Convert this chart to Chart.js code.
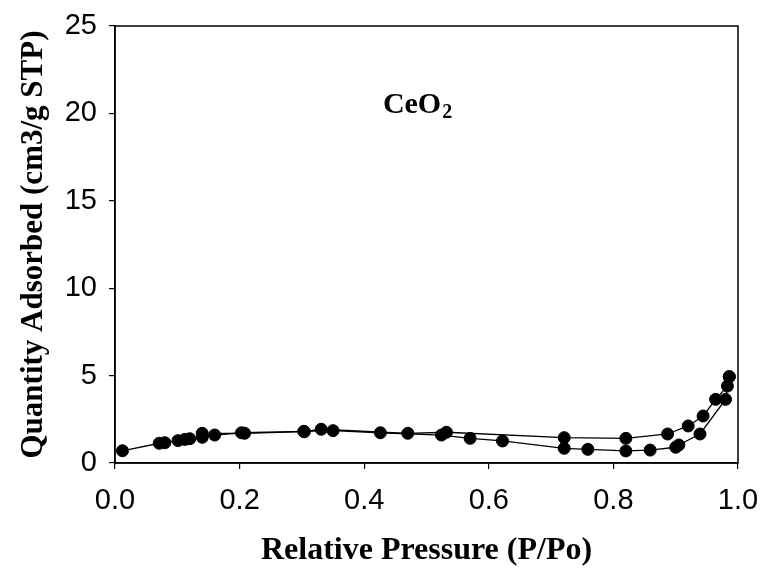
<!DOCTYPE html>
<html>
<head>
<meta charset="utf-8">
<script src="https://cdn.jsdelivr.net/npm/chart.js@4/dist/chart.umd.min.js"></script>
<style>
  html, body { margin: 0; padding: 0; background: #fff; overflow: hidden; }
  #wrap { width: 765px; height: 571px; }
</style>
</head>
<body>
<div id="wrap"><canvas id="chart1"></canvas></div>
<script>
// CeO2 N2 isotherm
const adsX = [0.012, 0.071, 0.080, 0.101, 0.112, 0.120, 0.140, 0.160, 0.203, 0.303, 0.350, 0.426, 0.524, 0.570, 0.622, 0.721, 0.759, 0.820, 0.859, 0.900, 0.905, 0.939, 0.980, 0.986];
const adsY = [0.70, 1.13, 1.16, 1.28, 1.35, 1.39, 1.47, 1.60, 1.73, 1.81, 1.85, 1.73, 1.60, 1.41, 1.26, 0.84, 0.78, 0.69, 0.74, 0.90, 1.03, 1.66, 3.64, 4.94];
const desX = [0.986, 0.983, 0.964, 0.944, 0.920, 0.887, 0.820, 0.721, 0.532, 0.470, 0.331, 0.304, 0.208, 0.140];
const desY = [4.94, 4.40, 3.64, 2.69, 2.12, 1.66, 1.41, 1.45, 1.76, 1.70, 1.93, 1.79, 1.70, 1.70];
const xTicks = [0, 0.2, 0.4, 0.6, 0.8, 1.0];
const yTicks = [0, 5, 10, 15, 20, 25];

const toPts = (xs, ys) => xs.map((x, i) => ({ x: x, y: ys[i] }));

const serif = '"Liberation Serif", "Times New Roman", serif';
const sans = '"Liberation Sans", Arial, sans-serif';

// box frame + sample label
const frame = {
  id: 'frame',
  afterDraw(chart) {
    const { ctx, chartArea: a, scales } = chart;
    ctx.save();
    ctx.strokeStyle = '#000';
    ctx.lineWidth = 1.5;
    ctx.strokeRect(a.left, a.top, a.right - a.left, a.bottom - a.top);
    const x = scales.x.getPixelForValue(0.43);
    const y = scales.y.getPixelForValue(20.0);
    ctx.fillStyle = '#000';
    ctx.textBaseline = 'alphabetic';
    ctx.font = 'bold 30px ' + serif;
    ctx.fillText('CeO', x, y);
    const w = ctx.measureText('CeO').width;
    ctx.font = 'bold 20px ' + serif;
    ctx.fillText('2', x + w + 1, y + 5);
    ctx.restore();
  }
};

const ctx = document.getElementById('chart1').getContext('2d');
const ds = (label, data) => ({
  label: label,
  data: data,
  showLine: true,
  borderColor: '#000',
  borderWidth: 1.3,
  backgroundColor: '#000',
  pointBackgroundColor: '#000',
  pointBorderColor: '#000',
  pointRadius: 6,
  pointBorderWidth: 1,
  tension: 0
});

new Chart(ctx, {
  type: 'scatter',
  data: {
    datasets: [ds('Adsorption', toPts(adsX, adsY)), ds('Desorption', toPts(desX, desY))]
  },
  options: {
    responsive: true,
    maintainAspectRatio: false,
    animation: false,
    layout: { padding: { top: 26, right: 27, left: 0, bottom: 0 } },
    plugins: { legend: { display: false }, tooltip: { enabled: false } },
    scales: {
      x: {
        type: 'linear',
        min: 0, max: 1,
        afterFit: s => { s.height = 108; s.paddingRight = 0; s.paddingLeft = 0; },
        afterBuildTicks: s => { s.ticks = xTicks.map(v => ({ value: v })); },
        border: { display: true, color: '#000', width: 1.5 },
        grid: { drawOnChartArea: false, drawTicks: true, tickLength: 6, color: '#000', lineWidth: 1.2 },
        ticks: {
          color: '#000',
          padding: 15,
          maxRotation: 0,
          font: { family: sans, size: 29 },
          callback: v => v.toFixed(1)
        },
        title: {
          display: true,
          text: 'Relative Pressure (P/Po)',
          color: '#000',
          font: { family: serif, size: 32, weight: 'bold' },
          padding: { top: 0, bottom: 1 }
        }
      },
      y: {
        type: 'linear',
        min: 0, max: 25,
        afterFit: s => { s.width = 115; s.paddingTop = 0; s.paddingBottom = 0; },
        afterBuildTicks: s => { s.ticks = yTicks.map(v => ({ value: v })); },
        border: { display: true, color: '#000', width: 1.5 },
        grid: { drawOnChartArea: false, drawTicks: true, tickLength: 6, color: '#000', lineWidth: 1.2 },
        ticks: {
          color: '#000',
          padding: 12,
          font: { family: sans, size: 29 },
          callback: v => String(v)
        },
        title: {
          display: true,
          text: 'Quantity Adsorbed (cm3/g STP)',
          color: '#000',
          font: { family: serif, size: 31, weight: 'bold' },
          padding: { top: 15, bottom: 0 }
        }
      }
    }
  },
  plugins: [frame]
});
</script>
</body>
</html>
